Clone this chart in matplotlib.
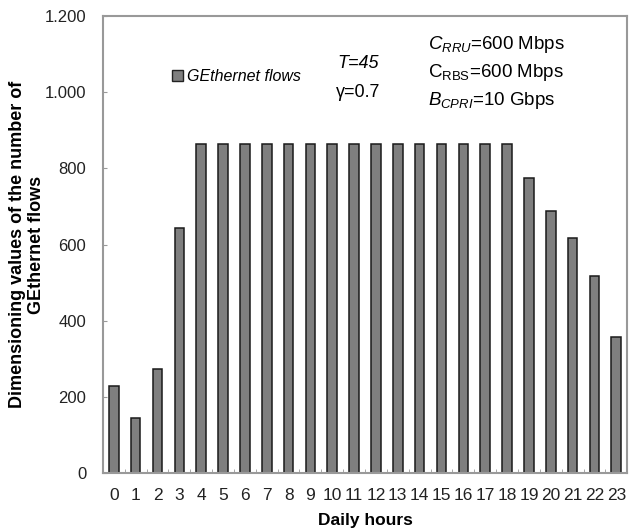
import matplotlib.pyplot as plt
from matplotlib.ticker import FuncFormatter, FixedLocator
from matplotlib.patches import Patch
import numpy as np

plt.rcParams['font.family'] = ['Liberation Sans', 'DejaVu Sans']
plt.rcParams['mathtext.fontset'] = 'custom'
plt.rcParams['mathtext.rm'] = 'Liberation Sans'
plt.rcParams['mathtext.it'] = 'Liberation Sans:italic'

hours = list(range(24))
flows = [228, 144, 273, 643, 864, 864, 864, 864, 864, 864, 864, 864, 864,
         864, 864, 864, 864, 864, 864, 774, 688, 617, 517, 357]
y_ticks = [0, 200, 400, 600, 800, 1000, 1200]

fig = plt.figure(figsize=(6.31, 5.31), dpi=100)
ax = fig.add_axes([0.163, 0.109, 0.831, 0.861])

ax.bar(hours, flows, width=0.44, color='#7f7f7f', edgecolor='#1a1a1a', linewidth=1.1,
       label='GEthernet flows')

ax.set_xlim(-0.5, 23.5)
ax.set_ylim(0, 1200)
ax.set_xticks(hours)
ax.set_xticklabels([str(h) for h in hours], fontsize=12.5, color='#222222')
ax.xaxis.set_minor_locator(FixedLocator(np.arange(-0.5, 24, 1)))
ax.tick_params(axis='x', which='major', length=0, pad=11)
ax.tick_params(axis='x', which='minor', direction='in', length=3, color='#999999')
ax.set_yticks(y_ticks)
ax.yaxis.set_major_formatter(FuncFormatter(lambda v, p: f'{int(v):,}'.replace(',', '.')))
ax.tick_params(axis='y', direction='in', length=3, color='#999999', labelsize=12,
               labelcolor='#222222', pad=12)

for s in ax.spines.values():
    s.set_color('#999999')
    s.set_linewidth(1.5)

ax.set_xlabel('Daily hours', fontsize=12.5, fontweight='bold', labelpad=7)
ax.set_ylabel('Dimensioning values of the number of\nGEthernet flows', fontsize=13,
              fontweight='bold', labelpad=0, linespacing=1.1)

leg = ax.legend(handles=[Patch(facecolor='#7f7f7f', edgecolor='#222222', label='GEthernet flows')],
                loc='upper left', bbox_to_anchor=(0.105, 0.915), frameon=False,
                prop={'style': 'italic', 'size': 11.5}, handlelength=0.65, handleheight=0.65,
                handletextpad=0.3)

ax.text(0.487, 0.897, 'T=45', transform=ax.transAxes, fontsize=13, ha='center',
        va='center', style='italic')
ax.text(0.487, 0.832, 'γ=0.7', transform=ax.transAxes, fontsize=13, ha='center',
        va='center')
ax.text(0.62, 0.937, r'$C_{RRU}$=600 Mbps', transform=ax.transAxes, fontsize=13.5,
        va='center')
ax.text(0.62, 0.876, r'C$_{\mathrm{RBS}}$=600 Mbps', transform=ax.transAxes, fontsize=13.5,
        va='center')
ax.text(0.62, 0.816, r'$B_{CPRI}$=10 Gbps', transform=ax.transAxes, fontsize=13.5,
        va='center')

fig.savefig('out.png', dpi=100)
